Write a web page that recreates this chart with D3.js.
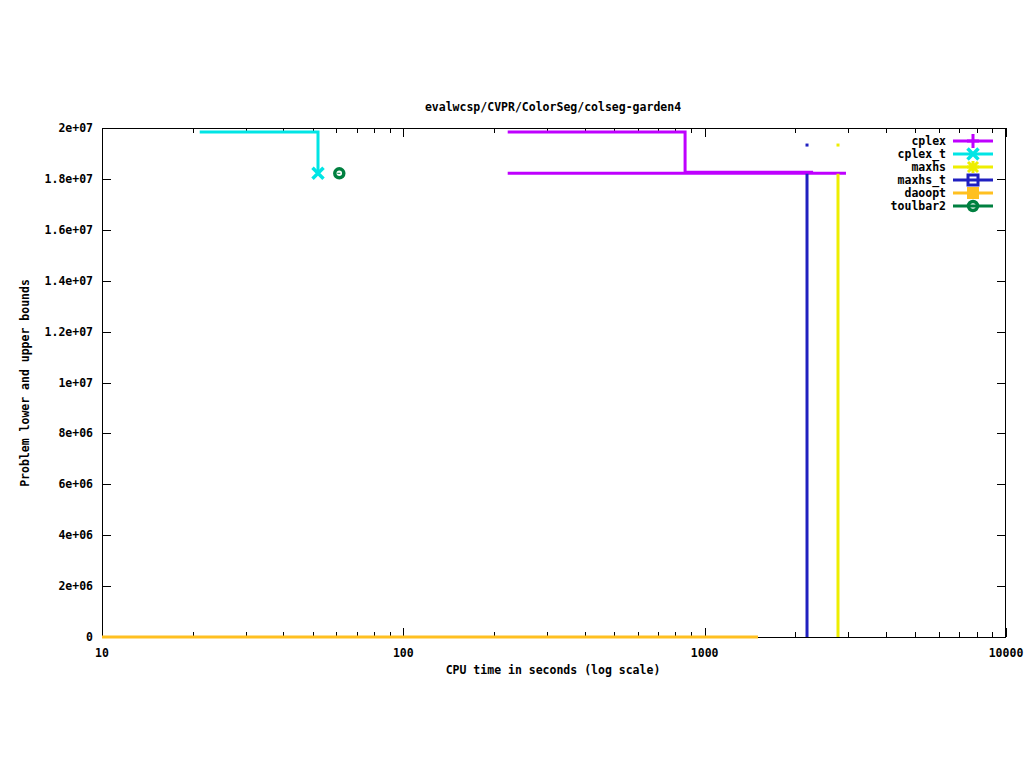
<!DOCTYPE html>
<html><head><meta charset="utf-8">
<script src="https://cdn.jsdelivr.net/npm/d3@7"></script>
<style>body{margin:0;background:#fff}svg{display:block}text{font-family:"DejaVu Sans Mono",monospace;font-weight:bold;font-size:11.5px;fill:#000}</style>
</head><body><svg id="c" width="1024" height="768"></svg>
<script>
const title = "evalwcsp/CVPR/ColorSeg/colseg-garden4";
const xLabel = "CPU time in seconds (log scale)";
const yLabel = "Problem lower and upper bounds";
const xTicks = [10, 100, 1000, 10000];
const yTicks = [0, 2e6, 4e6, 6e6, 8e6, 1e7, 1.2e7, 1.4e7, 1.6e7, 1.8e7, 2e7];
const yTickLabels = ["0","2e+06","4e+06","6e+06","8e+06","1e+07","1.2e+07","1.4e+07","1.6e+07","1.8e+07","2e+07"];
const seriesNames = ["cplex","cplex_t","maxhs","maxhs_t","daoopt","toulbar2"];
const seriesColors = ["#bf00ff","#00e5e5","#eeee00","#2020c0","#ffc020","#008040"];
// step lines [time, value]
const cplexUpper = [[222,1.984e7],[861,1.984e7],[861,1.826e7],[2290,1.826e7]];
const cplexLower = [[222,1.822e7],[2944,1.822e7]];
const cplexTUpper = [[21.1,1.984e7],[52.1,1.984e7],[52.1,1.822e7]];
const cplexTPoint = [[52.1,1.822e7]];
const toulbar2Point = [[61.3,1.822e7]];
const maxhsLine = [[2770,1.82e7],[2770,0]];
const maxhsPoint = [[2770,1.933e7]];
const maxhsTLine = [[2186,1.82e7],[2186,0]];
const maxhsTPoint = [[2186,1.933e7]];
const daooptLine = [[10,0],[1503,0]];

const L=102,R=1006,T=128,B=637;
const svg=d3.select("#c");
const x=d3.scaleLog().domain([10,10000]).range([L,R]);
const y=d3.scaleLinear().domain([0,2e7]).range([B,T]);
const line=d3.line().x(d=>x(d[0])).y(d=>y(d[1]));

// ticks
const g=svg.append("g").attr("stroke","#000").attr("stroke-width",1);
const minor=[];
for(let e=10;e<10000;e*=10)for(let k=2;k<10;k++)minor.push(e*k);
minor.forEach(v=>{const px=Math.round(x(v))+0.5;
 g.append("line").attr("x1",px).attr("x2",px).attr("y1",B).attr("y2",B-5);
 g.append("line").attr("x1",px).attr("x2",px).attr("y1",T).attr("y2",T+5);});
xTicks.forEach(v=>{const px=Math.round(x(v))+0.5;
 g.append("line").attr("x1",px).attr("x2",px).attr("y1",B).attr("y2",B-9);
 g.append("line").attr("x1",px).attr("x2",px).attr("y1",T).attr("y2",T+9);});
yTicks.forEach(v=>{const py=Math.round(y(v))+0.5;
 g.append("line").attr("x1",L).attr("x2",L+9).attr("y1",py).attr("y2",py);
 g.append("line").attr("x1",R).attr("x2",R-9).attr("y1",py).attr("y2",py);});

// tick labels
xTicks.forEach(v=>svg.append("text").attr("x",x(v)).attr("y",B+20).attr("text-anchor","middle").text(v));
yTicks.forEach((v,i)=>svg.append("text").attr("x",L-9).attr("y",y(v)+4).attr("text-anchor","end").text(yTickLabels[i]));
svg.append("text").attr("x",553).attr("y",111).attr("text-anchor","middle").text(title);
svg.append("text").attr("x",553).attr("y",674).attr("text-anchor","middle").text(xLabel);
svg.append("text").attr("transform","translate(29,383) rotate(-90)").attr("text-anchor","middle").text(yLabel);

// data lines
const P=svg.append("g").attr("fill","none").attr("stroke-width",3).attr("stroke-linejoin","miter").attr("stroke-linecap","butt");
P.append("path").attr("d",line(cplexTUpper)).attr("stroke",seriesColors[1]);
P.append("path").attr("d",line(cplexUpper)).attr("stroke",seriesColors[0]);
P.append("path").attr("d",line(cplexLower)).attr("stroke",seriesColors[0]);
P.append("path").attr("d",line(maxhsTLine)).attr("stroke",seriesColors[3]);
P.append("path").attr("d",line(maxhsLine)).attr("stroke",seriesColors[2]);
maxhsTPoint.forEach(d=>svg.append("rect").attr("x",x(d[0])-1.5).attr("y",y(d[1])-1.5).attr("width",3).attr("height",3).attr("fill",seriesColors[3]));
maxhsPoint.forEach(d=>svg.append("rect").attr("x",x(d[0])-1.5).attr("y",y(d[1])-1.5).attr("width",3).attr("height",3).attr("fill",seriesColors[2]));

// border
svg.append("rect").attr("x",L+0.5).attr("y",T+0.5).attr("width",R-L-1).attr("height",B-T).attr("fill","none").attr("stroke","#000");
svg.append("path").attr("d",line(daooptLine)).attr("stroke",seriesColors[4]).attr("stroke-width",3).attr("fill","none");

// markers
function marker(gg,i,cx,cy){
 const c=seriesColors[i];
 const s=gg.append("g").attr("stroke",c).attr("stroke-width",3).attr("fill","none");
 if(i===0){s.append("path").attr("d",`M${cx-6},${cy}H${cx+6}M${cx},${cy-7}V${cy+7}`);}
 else if(i===1){s.append("path").attr("d",`M${cx-5.5},${cy-5.5}L${cx+5.5},${cy+5.5}M${cx-5.5},${cy+5.5}L${cx+5.5},${cy-5.5}`).attr("stroke-width",3.5);}
 else if(i===2){s.append("path").attr("d",`M${cx-5},${cy-5}L${cx+5},${cy+5}M${cx-5},${cy+5}L${cx+5},${cy-5}M${cx-6},${cy}H${cx+6}M${cx},${cy-6}V${cy+6}`);}
 else if(i===3){s.append("rect").attr("x",cx-5).attr("y",cy-5).attr("width",10).attr("height",10);}
 else if(i===4){s.append("rect").attr("x",cx-6).attr("y",cy-6).attr("width",12).attr("height",12).attr("fill",c).attr("stroke","none");}
 else if(i===5){s.append("circle").attr("cx",cx).attr("cy",cy).attr("r",4.5).attr("stroke-width",3.5);
   s.append("rect").attr("x",cx-2).attr("y",cy-0.5).attr("width",3).attr("height",1).attr("fill",c).attr("stroke","none");}
}
cplexTPoint.forEach(d=>marker(svg,1,x(d[0]),y(d[1])));
toulbar2Point.forEach(d=>marker(svg,5,x(d[0]),y(d[1])));

// legend
seriesNames.forEach((n,i)=>{
 const ly=141+i*13;
 svg.append("text").attr("x",946).attr("y",ly+4).attr("text-anchor","end").text(n);
 svg.append("line").attr("x1",953).attr("x2",993).attr("y1",ly).attr("y2",ly).attr("stroke",seriesColors[i]).attr("stroke-width",3);
 marker(svg,i,973,ly);
});
</script></body></html>
